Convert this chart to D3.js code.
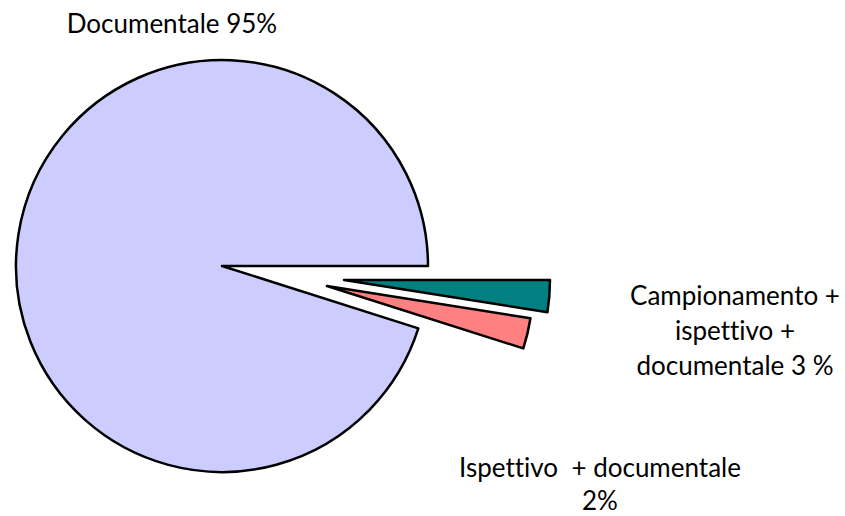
<!DOCTYPE html>
<meta charset="utf-8">
<script src="https://cdn.jsdelivr.net/npm/d3@7"></script>
<style>
body { margin: 0; background: #fff; }
text { font-family: Lato, "Open Sans", sans-serif; font-size: 26px; fill: #000; font-variant-ligatures: none; }
path.slice { stroke: #000; stroke-width: 2.5px; stroke-linejoin: round; }
</style>
<body>
<script>

// data (clockwise from 3 o'clock)
var categories = ["Campionamento + ispettivo + documentale", "Ispettivo + documentale", "Documentale"];
var values = [2.5, 2.4, 95.1];
var colours = ["#008080", "#FF8080", "#CCCCFF"];
var labels = [
  ["Campionamento +", "ispettivo +", "documentale 3 %"],
  ["Ispettivo  + documentale", "2%"],
  ["Documentale 95%"]
];

// exploded slices: offset of each slice apex from centre
var explode = [[122, 14], [105, 20], [0, 0]];
var labelPos = [[735, 305], [600, 477], [172, 33]];
var lineGap = [35, 33, 0];

var width = 845,
    height = 516,
    cx = 222, cy = 266, radius = 206;

var svg = d3.select("body").append("svg")
    .attr("width", width)
    .attr("height", height);

var pie = d3.pie()
    .sort(null)
    .value(function(d) { return d; })
    .startAngle(Math.PI / 2)
    .endAngle(Math.PI / 2 + 2 * Math.PI);

var arc = d3.arc().innerRadius(0).outerRadius(radius);

var arcs = pie(values);

svg.append("g")
    .attr("transform", "translate(" + cx + "," + cy + ")")
  .selectAll("path")
    .data(arcs)
  .enter().append("path")
    .attr("class", "slice")
    .attr("d", arc)
    .attr("transform", function(d, i) { return "translate(" + explode[i][0] + "," + explode[i][1] + ")"; })
    .style("fill", function(d, i) { return colours[i]; });

// labels
var lab = svg.append("g").selectAll("text")
    .data(labels)
  .enter().append("text")
    .attr("text-anchor", "middle")
    .attr("x", function(d, i) { return labelPos[i][0]; })
    .attr("y", function(d, i) { return labelPos[i][1]; });

lab.selectAll("tspan")
    .data(function(d, i) { return d.map(function(t) { return {t: t, i: i}; }); })
  .enter().append("tspan")
    .attr("x", function(d) { return labelPos[d.i][0]; })
    .attr("dy", function(d, j) { return j == 0 ? 0 : lineGap[d.i]; })
    .style("white-space", "pre")
    .text(function(d) { return d.t; });

</script>
</body>
</html>
